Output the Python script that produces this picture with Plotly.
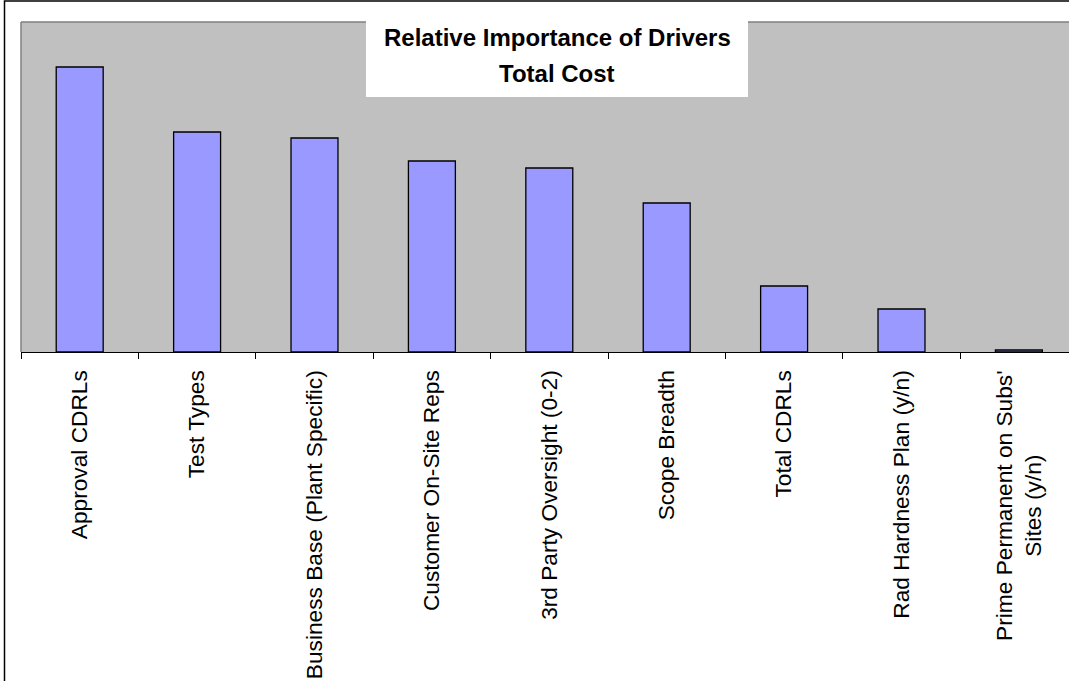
import plotly.graph_objects as go

categories = [
    "Approval CDRLs",
    "Test Types",
    "Business Base (Plant Specific)",
    "Customer On-Site Reps",
    "3rd Party Oversight (0-2)",
    "Scope Breadth",
    "Total CDRLs",
    "Rad Hardness Plan (y/n)",
    "Prime Permanent on Subs'<br>Sites (y/n)",
]
importance = [28.5, 22.0, 21.4, 19.1, 18.4, 14.9, 6.6, 4.3, 0.2]
title_lines = ["Relative Importance of Drivers", "Total Cost"]

W, H = 1069, 681
L, T, B = 21, 22, 329
plot_w = W - L
plot_h = H - T - B
FONT = "Liberation Sans, Arial, sans-serif"
LABEL_SIZE = 22.7

fig = go.Figure()
fig.add_trace(go.Bar(
    x=categories,
    y=importance,
    marker=dict(color="#9999FF", line=dict(color="#000000", width=1.3)),
    width=0.4,
))

def px_x(p):
    return (p - L) / plot_w

def px_y(p):
    return (H - B - p) / plot_h

shapes = [
    # outer chart border
    dict(type="rect", xref="paper", yref="paper",
         x0=px_x(4.5), x1=px_x(1200), y0=px_y(900), y1=px_y(1),
         line=dict(color="#000000", width=1.5), fillcolor="rgba(0,0,0,0)", layer="above"),
    # plot area top / left border (gray)
    dict(type="line", xref="paper", yref="paper", x0=0, x1=1.1, y0=1, y1=1,
         line=dict(color="#808080", width=1.5), layer="above"),
    dict(type="line", xref="paper", yref="paper", x0=0, x1=0, y0=0, y1=1,
         line=dict(color="#808080", width=1.5), layer="above"),
    # title box
    dict(type="rect", xref="paper", yref="paper",
         x0=px_x(366), x1=px_x(748), y0=px_y(97), y1=px_y(2.5),
         line=dict(width=0), fillcolor="#FFFFFF", layer="above"),
]

annotations = [
    dict(text="<b>%s</b>" % title_lines[0], xref="paper", yref="paper",
         x=px_x(557), y=px_y(38), xanchor="center", yanchor="middle",
         showarrow=False, font=dict(family=FONT, size=24, color="#000000")),
    dict(text="<b>%s</b>" % title_lines[1], xref="paper", yref="paper",
         x=px_x(557), y=px_y(73), xanchor="center", yanchor="middle",
         showarrow=False, font=dict(family=FONT, size=24, color="#000000")),
]

# multi-line category labels are drawn as centred annotations
tick_text = []
for i, c in enumerate(categories):
    if "<br>" in c:
        tick_text.append("")
        annotations.append(dict(
            text=c, xref="x", yref="paper", x=c, y=px_y(369),
            xanchor="center", yanchor="top", textangle=-90, align="center",
            showarrow=False, font=dict(family=FONT, size=LABEL_SIZE, color="#000000"),
        ))
    else:
        tick_text.append(c)

cat_w = 117.4
fig.update_layout(
    width=W, height=H,
    margin=dict(l=L, r=0, t=T, b=B, pad=0),
    paper_bgcolor="#FFFFFF",
    plot_bgcolor="#C0C0C0",
    showlegend=False,
    shapes=shapes,
    annotations=annotations,
    font=dict(family=FONT, color="#000000"),
    xaxis=dict(
        type="category",
        range=[-0.5, -0.5 + plot_w / cat_w],
        tickvals=categories, ticktext=tick_text,
        showline=True, linecolor="#000000", linewidth=1.3,
        ticks="outside", tickson="boundaries", ticklen=6, tickcolor="#000000", tickwidth=1,
        tickangle=-90, ticklabelstandoff=8,
        tickfont=dict(family=FONT, size=LABEL_SIZE, color="#000000"),
        showgrid=False, zeroline=False,
    ),
    yaxis=dict(
        range=[0, 33],
        visible=False,
        showgrid=False, zeroline=False,
    ),
)

fig.write_html("out.html")
